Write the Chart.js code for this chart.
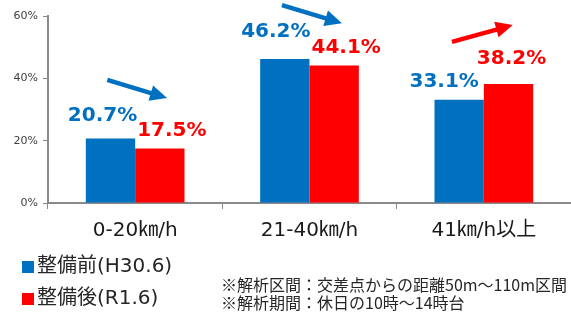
<!DOCTYPE html>
<html>
<head>
<meta charset="utf-8">
<script src="https://cdn.jsdelivr.net/npm/chart.js@4"></script>
<style>
  html, body { margin: 0; padding: 0; background: #fff; }
  #wrap { position: relative; width: 571px; height: 313px; }
</style>
</head>
<body>
<div id="wrap"><canvas id="speedChart" width="571" height="313"></canvas></div>
<script>
// Chart data
const categories = ["0-20㎞/h", "21-40㎞/h", "41㎞/h以上"];
const seriesNames = ["整備前(H30.6)", "整備後(R1.6)"];
const beforeValues = [20.7, 46.2, 33.1];
const afterValues = [17.5, 44.1, 38.2];
const yTicks = [0, 20, 40, 60];
const notes = [
  "※解析区間：交差点からの距離50m～110m区間",
  "※解析期間：休日の10時～14時台",
];

// trend arrows, in data units (category index, percent)
const arrows = [
  { from: [-0.16, 39.5], to: [0.183, 33.7], color: "#0070C0" },
  { from: [0.842, 63.5], to: [1.186, 57.7], color: "#0070C0" },
  { from: [1.817, 51.7], to: [2.166, 57.1], color: "#FF0000" },
];

// label nudges in px from bar top-centre (labels were hand placed)
const labelNudge = [
  [[-8, -23], [-9, -27], [-15, -18]],
  [[12, -18], [12, -18], [3, -25]],
];

const BLUE = "#0070C0";
const RED = "#FF0000";
const FONT = '"DejaVu Sans", "Noto Sans CJK JP", sans-serif';
const JP_FONT = '"Noto Sans CJK JP", "DejaVu Sans", sans-serif';

// Helper: draw one arrow
const drawArrow = (ctx, x1, y1, x2, y2, color) => {
  const ang = Math.atan2(y2 - y1, x2 - x1);
  const headLen = 17;
  const headW = 8;
  const bx = x2 - headLen * Math.cos(ang);
  const by = y2 - headLen * Math.sin(ang);
  ctx.save();
  ctx.strokeStyle = color;
  ctx.fillStyle = color;
  ctx.lineWidth = 4.5;
  ctx.beginPath();
  ctx.moveTo(x1, y1);
  ctx.lineTo(bx + Math.cos(ang), by + Math.sin(ang));
  ctx.stroke();
  ctx.beginPath();
  ctx.moveTo(x2, y2);
  ctx.lineTo(bx + headW * Math.sin(ang), by - headW * Math.cos(ang));
  ctx.lineTo(bx - headW * Math.sin(ang), by + headW * Math.cos(ang));
  ctx.closePath();
  ctx.fill();
  ctx.restore();
};

// value labels, arrows, legend and notes
const extrasPlugin = {
  id: "extras",
  afterDatasetsDraw(chart) {
    const { ctx, scales } = chart;
    const xs = scales.x;
    const ys = scales.y;

    // value labels above bars
    ctx.save();
    ctx.font = "bold 20px " + FONT;
    ctx.textAlign = "center";
    ctx.textBaseline = "middle";
    chart.data.datasets.forEach((ds, di) => {
      const meta = chart.getDatasetMeta(di);
      ctx.fillStyle = ds.backgroundColor;
      meta.data.forEach((bar, i) => {
        const [dx, dy] = labelNudge[di][i];
        ctx.fillText(ds.data[i].toFixed(1) + "%", bar.x + dx, bar.y + dy);
      });
    });
    ctx.restore();

    // arrows
    arrows.forEach((a) => {
      drawArrow(
        ctx,
        xs.getPixelForValue(a.from[0]),
        ys.getPixelForValue(a.from[1]),
        xs.getPixelForValue(a.to[0]),
        ys.getPixelForValue(a.to[1]),
        a.color,
      );
    });

    // legend (vertical, bottom left)
    ctx.save();
    ctx.textBaseline = "middle";
    ctx.textAlign = "left";
    ctx.font = "20px " + FONT;
    chart.data.datasets.forEach((ds, di) => {
      const cy = 267 + di * 32;
      ctx.fillStyle = ds.backgroundColor;
      ctx.fillRect(22, cy - 6, 12, 12);
      ctx.fillStyle = "#262626";
      ctx.fillText(ds.label, 37, cy);
    });

    // notes
    ctx.font = "16px " + JP_FONT;
    notes.forEach((t, i) => {
      ctx.fillText(t, 221, 285 + i * 18);
    });
    ctx.restore();
  },
};

const ctx = document.getElementById("speedChart").getContext("2d");

new Chart(ctx, {
  type: "bar",
  data: {
    labels: categories,
    datasets: [
      {
        label: seriesNames[0],
        data: beforeValues,
        backgroundColor: BLUE,
        categoryPercentage: 0.566,
        barPercentage: 1,
      },
      {
        label: seriesNames[1],
        data: afterValues,
        backgroundColor: RED,
        categoryPercentage: 0.566,
        barPercentage: 1,
      },
    ],
  },
  options: {
    responsive: false,
    animation: false,
    layout: { padding: { top: 16, right: 0, left: 0, bottom: 0 } },
    plugins: {
      legend: { display: false },
      tooltip: { enabled: false },
    },
    scales: {
      x: {
        grid: {
          display: true,
          drawOnChartArea: false,
          drawTicks: true,
          tickLength: 6,
          color: "#898989",
          offset: true,
        },
        border: { color: "#898989", width: 2 },
        ticks: {
          color: "#1a1a1a",
          font: { size: 20, family: FONT },
          padding: 10,
          maxRotation: 0,
        },
        afterFit: (s) => {
          s.height = 110;
        },
      },
      y: {
        min: 0,
        max: 60,
        afterBuildTicks: (s) => {
          s.ticks = yTicks.map((v) => ({ value: v }));
        },
        grid: {
          display: true,
          drawOnChartArea: false,
          drawTicks: true,
          tickLength: 5,
          color: "#898989",
        },
        border: { color: "#898989", width: 2 },
        ticks: {
          color: "#404040",
          font: { size: 11, family: FONT },
          padding: 5,
          callback: (v) => v + "%",
        },
        afterFit: (s) => {
          s.width = 48;
        },
      },
    },
  },
  plugins: [extrasPlugin],
});
</script>
</body>
</html>
